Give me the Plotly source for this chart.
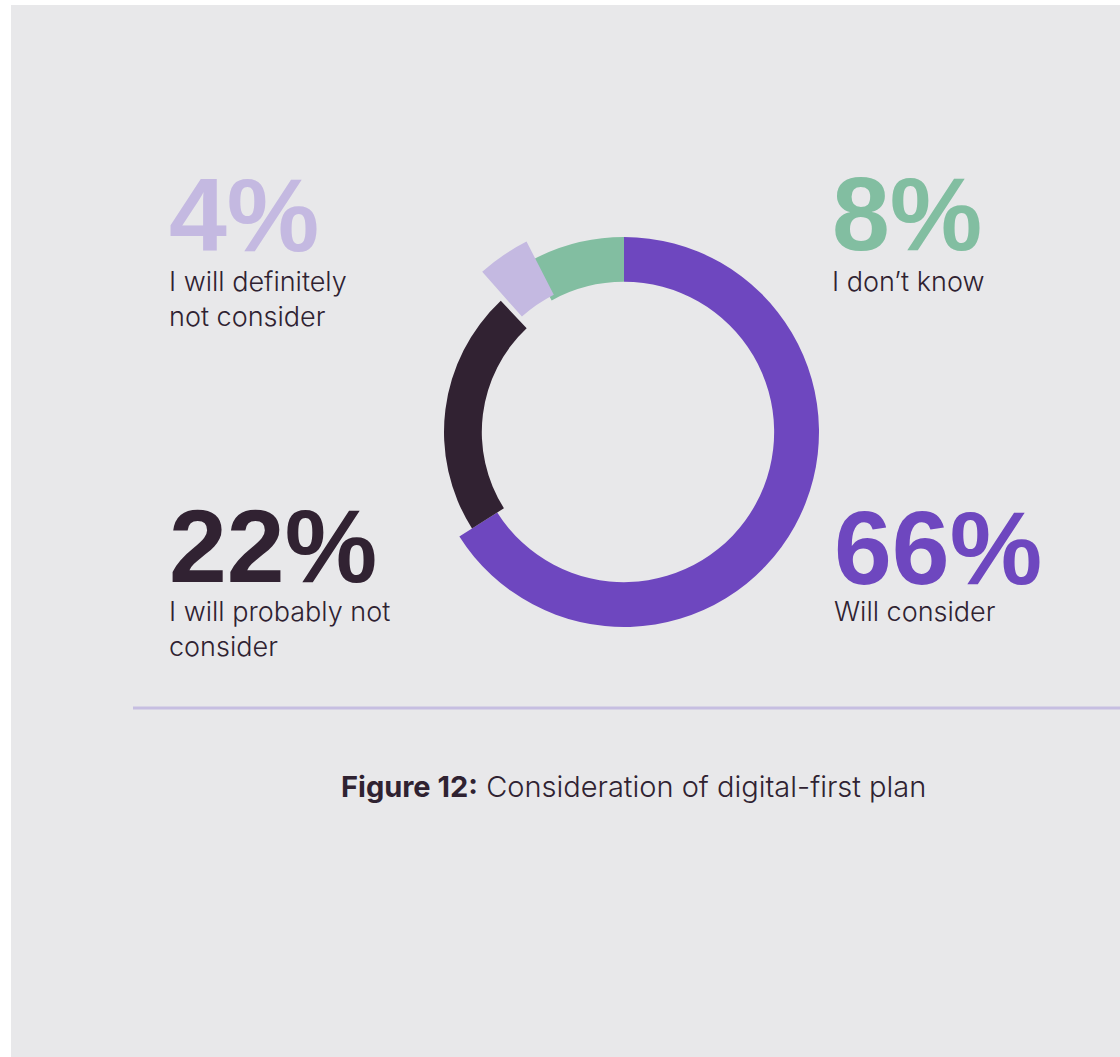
import plotly.graph_objects as go

W, H = 1120, 1057

labels = ["Will consider", "I will probably not consider", "I will definitely not consider", "I don't know"]
values = [66, 22, 4, 8]
pct_text = ["66%", "22%", "4%", "8%"]
label_lines = [["Will consider"], ["I will probably not", "consider"], ["I will definitely", "not consider"], ["I don\u2019t know"]]
colors = ["#6E47BF", "#312232", "#C4B9E1", "#82BEA1"]
title_bold = "Figure 12:"
title_rest = " Consideration of digital-first plan"

BG = "#E8E8EA"
TXT = "#2F2231"
CX, CY = 624, 432


def px(x):
    return x / W


def py(y):
    return 1 - y / H


def pie_trace(show_idx, R, hole, rotation=0):
    cols = [colors[i] if i in show_idx else "rgba(0,0,0,0)" for i in range(len(values))]
    return go.Pie(
        labels=labels, values=values, sort=False, direction="clockwise", rotation=rotation,
        hole=hole, textinfo="none", hoverinfo="label+percent",
        marker=dict(colors=cols, line=dict(width=0)), showlegend=False,
        domain=dict(x=[px(CX - R), px(CX + R)], y=[py(CY + R), py(CY - R)]),
    )


fig = go.Figure()
fig.add_trace(pie_trace([0, 3], 195, 0.77))
fig.add_trace(pie_trace([1], 180, 0.79))
fig.add_trace(pie_trace([2], 214, 0.72, rotation=1.7))

# positions: left x, cap-middle y of number, middle y of first label line
num_pos = [(832, 548, 611), (167, 546, 611), (167, 215, 282), (830, 214, 282)]
LINE = 35

annotations = []
for i in range(len(values)):
    x, ny, ly = num_pos[i]
    annotations.append(dict(
        x=px(x), y=py(ny), xref="paper", yref="paper", xanchor="left", yanchor="middle",
        text=pct_text[i], showarrow=False, height=84,
        font=dict(family="Liberation Sans, Arial, sans-serif", size=104, color=colors[i], weight=900),
    ))
    n = len(label_lines[i])
    annotations.append(dict(
        x=px(x), y=py(ly + LINE * (n - 1) / 2), xref="paper", yref="paper", xanchor="left", yanchor="middle",
        text="<br>".join(label_lines[i]), showarrow=False, align="left",
        font=dict(family="Inter, Lato, sans-serif", size=27, color=TXT, weight=300),
    ))

annotations.append(dict(
    x=px(633), y=py(786), xref="paper", yref="paper", xanchor="center", yanchor="middle",
    text=f"<b>{title_bold}</b>{title_rest}", showarrow=False,
    font=dict(family="Inter, Lato, sans-serif", size=29, color=TXT, weight=300),
))

shapes = [
    dict(type="rect", xref="paper", yref="paper", x0=px(11), x1=1, y0=0, y1=py(5),
         fillcolor=BG, line=dict(width=0), layer="below"),
    dict(type="line", xref="paper", yref="paper", x0=px(133), x1=1, y0=py(708), y1=py(708),
         line=dict(color="#C6BEE1", width=3)),
]

fig.update_layout(
    width=W, height=H, margin=dict(l=0, r=0, t=0, b=0),
    paper_bgcolor="white", plot_bgcolor="white",
    annotations=annotations, shapes=shapes,
)

fig.write_html("out.html")
